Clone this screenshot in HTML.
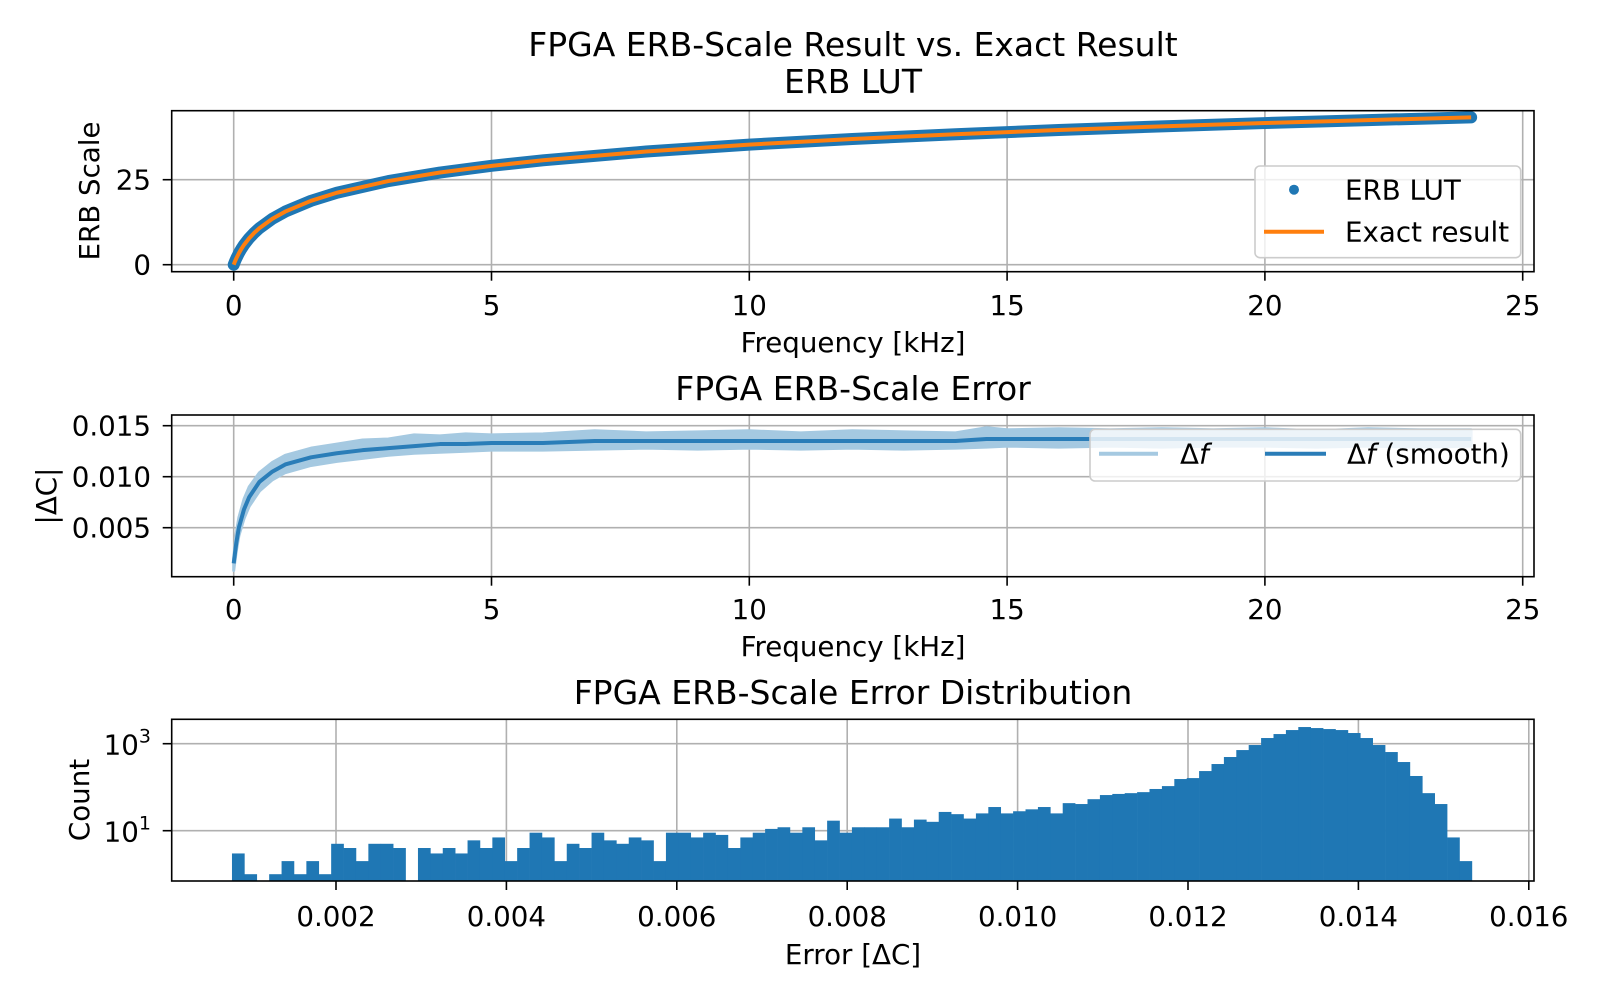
<!DOCTYPE html>
<html><head><meta charset="utf-8"><title>FPGA ERB-Scale</title>
<style>
html,body{margin:0;padding:0;background:#fff;}
svg{display:block;}
text{font-family:"DejaVu Sans","Liberation Sans",sans-serif;fill:#000;}
</style></head>
<body>
<svg id="fig" width="1600" height="1000" viewBox="0 0 1600 1000" xmlns="http://www.w3.org/2000/svg">
  <rect x="0" y="0" width="1600" height="1000" fill="#fff"/>
  <text x="853" y="56" font-size="33" text-anchor="middle">FPGA ERB-Scale Result vs. Exact Result</text>
  <text x="853" y="93" font-size="33" text-anchor="middle">ERB LUT</text>
  <text x="853" y="400" font-size="33" text-anchor="middle">FPGA ERB-Scale Error</text>
  <text x="853" y="704" font-size="33" text-anchor="middle">FPGA ERB-Scale Error Distribution</text>

  <g id="p1"></g>
  <g id="p2"></g>
  <g id="p3"></g>
</svg>
<script>
// ---- Panel 1 data ----
const erbFreqs = [0,0.02,0.05,0.1,0.15,0.2,0.3,0.4,0.5,0.75,1,1.5,2,3,4,5,6,8,10,12,14,16,18,20,22,24];
const lutErb   = [0,0.78,1.84,3.37,4.68,5.84,7.79,9.39,10.77,13.51,15.62,18.79,21.16,24.60,27.11,29.08,30.71,33.29,35.32,36.98,38.38,39.61,40.69,41.66,42.53,43.33];
const exactErb = [0,0.78,1.84,3.37,4.68,5.84,7.79,9.39,10.77,13.51,15.62,18.79,21.16,24.60,27.11,29.08,30.71,33.29,35.32,36.98,38.38,39.61,40.69,41.66,42.53,43.33];
const freqTicks = [0,5,10,15,20,25];
const erbTicks = [0,25];

// ---- Panel 2 data ----
const errFreqs = [0,0.05,0.1,0.2,0.3,0.5,0.75,1,1.5,2,2.5,3,3.5,4,4.5,5,6,7,8,9,10,11,12,13,14,14.6,15,16,17,18,19,20,21,22,23,24];
const errSmooth = [0.0015,0.0035,0.0050,0.0068,0.0080,0.0095,0.0105,0.0112,0.0119,0.0123,0.0126,0.0128,0.0130,0.0132,0.0132,0.0133,0.0133,0.0135,0.0135,0.0135,0.0135,0.0135,0.0135,0.0135,0.0135,0.0137,0.0137,0.0137,0.0137,0.0137,0.0137,0.0137,0.0137,0.0137,0.0137,0.0137];
const errUpper = [0.0020,0.0045,0.0060,0.0078,0.0090,0.0104,0.0114,0.0121,0.0128,0.0132,0.0136,0.0137,0.0141,0.0140,0.0142,0.0141,0.0142,0.0145,0.0143,0.0144,0.0145,0.0143,0.0145,0.0144,0.0143,0.0148,0.0146,0.0147,0.0146,0.0147,0.0146,0.0147,0.0145,0.0147,0.0146,0.0146];
const errLower = [0.0008,0.0027,0.0042,0.0059,0.0071,0.0086,0.0097,0.0104,0.0111,0.0115,0.0118,0.0121,0.0123,0.0124,0.0125,0.0126,0.0126,0.0127,0.0128,0.0127,0.0128,0.0127,0.0128,0.0127,0.0128,0.0129,0.0130,0.0129,0.0130,0.0129,0.0130,0.0130,0.0129,0.0130,0.0129,0.0130];
const errTicks = [0.005,0.010,0.015];
const errTickLabels = ["0.005","0.010","0.015"];

// ---- Panel 3 data ----
const histStart = 0.000779;
const histEnd = 0.015332;
const histCounts = [3,1,0,1,2,1,2,1,5,4,2,5,5,4,0,4,3,4,3,6,4,7,2,4,9,7,2,5,4,9,6,5,7,6,2,9,9,7,9,8,4,7,9,11,12,9,12,6,17,9,12,12,12,19,12,18,16,27,24,19,25,35,25,28,31,35,25,43,41,53,66,70,73,77,91,106,154,162,235,341,494,714,932,1350,1667,2060,2415,2290,2170,2060,1760,1350,932,643,379,181,73,41,7,2];
const histXTicks = [0.002,0.004,0.006,0.008,0.010,0.012,0.014,0.016];
const histXTickLabels = ["0.002","0.004","0.006","0.008","0.010","0.012","0.014","0.016"];
const histYTicks = [1,3];

const NS = "http://www.w3.org/2000/svg";
function mk(parent, tag, attrs){
  const e = document.createElementNS(NS, tag);
  for (const k in attrs) e.setAttribute(k, attrs[k]);
  parent.appendChild(e);
  return e;
}
const AX_L = 171.7, AX_R = 1534;
const GRID = "#b0b0b0";
const FS = 27.7;

function xf(f){ return 233.7 + f*51.56; }

// ===== Panel 1 =====
(function(){
  const g = document.getElementById('p1');
  const T = 110.7, B = 271.7;
  function y(v){ return 264.7 - v*3.4; }
  freqTicks.forEach(t=>{
    const l = mk(g,'line',{x1:xf(t),x2:xf(t),y1:T,y2:B,stroke:GRID,'stroke-width':1.6});
    
    
    const tk = mk(g,'line',{x1:xf(t),x2:xf(t),y1:B,y2:B+9,stroke:'#000','stroke-width':1.6});
    
    
    const tx = mk(g,'text',{x:xf(t),y:315,'font-size':FS,'text-anchor':'middle'});
    tx.textContent = String(t);
    
    
  });
  erbTicks.forEach(t=>{
    const l = mk(g,'line',{x1:AX_L,x2:AX_R,y1:y(t),y2:y(t),stroke:GRID,'stroke-width':1.6});
    
    
    const tk = mk(g,'line',{x1:AX_L-9,x2:AX_L,y1:y(t),y2:y(t),stroke:'#000','stroke-width':1.6});
    
    
    const tx = mk(g,'text',{x:151,y:y(t)+10,'font-size':FS,'text-anchor':'end'});
    tx.textContent = String(t);
    
    
  });
  const lutPts = erbFreqs.map((f,i)=>xf(f).toFixed(2)+','+y(lutErb[i]).toFixed(2)).join(' ');
  const lut = mk(g,'polyline',{points:lutPts,fill:'none',stroke:'#1f77b4','stroke-width':12,'stroke-linecap':'round','stroke-linejoin':'round'});
  
  
  const exPts = erbFreqs.map((f,i)=>xf(f).toFixed(2)+','+y(exactErb[i]).toFixed(2)).join(' ');
  const ex = mk(g,'polyline',{points:exPts,fill:'none',stroke:'#ff7f0e','stroke-width':4,'stroke-linejoin':'round'});
  
  
  const sp = mk(g,'rect',{x:AX_L,y:T,width:AX_R-AX_L,height:B-T,fill:'none',stroke:'#000','stroke-width':1.6});
  
  
  const lg = mk(g,'g',{});
  
  
  mk(lg,'rect',{x:1255,y:166,width:265.7,height:91.7,rx:5,fill:'#fff','fill-opacity':0.8,stroke:'#cccccc','stroke-width':1.6});
  const d = mk(lg,'circle',{cx:1294,cy:189.7,r:5,fill:'#1f77b4'});
  
  
  const t1 = mk(lg,'text',{x:1345,y:199.5,'font-size':FS});
  t1.textContent = 'ERB LUT';
  
  
  const ln = mk(lg,'line',{x1:1264,x2:1324,y1:231.7,y2:231.7,stroke:'#ff7f0e','stroke-width':4});
  
  
  const t2 = mk(lg,'text',{x:1345,y:241.5,'font-size':FS});
  t2.textContent = 'Exact result';
  
  
  const xl = mk(g,'text',{x:853,y:352,'font-size':FS,'text-anchor':'middle'});
  xl.textContent = 'Frequency [kHz]';
  
  
  const yl = mk(g,'text',{x:0,y:0,'font-size':FS,'text-anchor':'middle',transform:'translate(99,191) rotate(-90)'});
  yl.textContent = 'ERB Scale';
  
  
})();

// ===== Panel 2 =====
(function(){
  const g = document.getElementById('p2');
  const T = 415, B = 576.7;
  function y(v){ return 476.7 - (v-0.010)*10200; }
  freqTicks.forEach(t=>{
    const l = mk(g,'line',{x1:xf(t),x2:xf(t),y1:T,y2:B,stroke:GRID,'stroke-width':1.6});
    
    
    const tk = mk(g,'line',{x1:xf(t),x2:xf(t),y1:B,y2:B+9,stroke:'#000','stroke-width':1.6});
    
    
    const tx = mk(g,'text',{x:xf(t),y:619,'font-size':FS,'text-anchor':'middle'});
    tx.textContent = String(t);
    
    
  });
  errTicks.forEach((t,i)=>{
    const l = mk(g,'line',{x1:AX_L,x2:AX_R,y1:y(t),y2:y(t),stroke:GRID,'stroke-width':1.6});
    
    
    const tk = mk(g,'line',{x1:AX_L-9,x2:AX_L,y1:y(t),y2:y(t),stroke:'#000','stroke-width':1.6});
    
    
    const tx = mk(g,'text',{x:151,y:y(t)+10,'font-size':FS,'text-anchor':'end'});
    tx.textContent = errTickLabels[i];
    
    
  });
  const up = errFreqs.map((f,i)=>xf(f).toFixed(2)+','+y(errUpper[i]).toFixed(2));
  const lo = errFreqs.map((f,i)=>xf(f).toFixed(2)+','+y(errLower[i]).toFixed(2)).reverse();
  const band = mk(g,'polygon',{points:up.concat(lo).join(' '),fill:'#a5c9e1',stroke:'#a5c9e1','stroke-width':3,'stroke-linejoin':'round'});
  
  
  const sm = mk(g,'polyline',{points:errFreqs.map((f,i)=>xf(f).toFixed(2)+','+y(errSmooth[i]).toFixed(2)).join(' '),fill:'none',stroke:'#2a7db8','stroke-width':4,'stroke-linejoin':'round'});
  
  
  const sp = mk(g,'rect',{x:AX_L,y:T,width:AX_R-AX_L,height:B-T,fill:'none',stroke:'#000','stroke-width':1.6});
  
  
  const lg = mk(g,'g',{});
  
  
  mk(lg,'rect',{x:1090,y:429.3,width:430.7,height:51.7,rx:5,fill:'#fff','fill-opacity':0.8,stroke:'#cccccc','stroke-width':1.6});
  const l1 = mk(lg,'line',{x1:1099,x2:1158,y1:453.7,y2:453.7,stroke:'#a5c9e1','stroke-width':4});
  
  
  const t1 = mk(lg,'text',{x:1180,y:463.5,'font-size':FS});
  t1.innerHTML = 'Δ<tspan font-style="italic">f</tspan>';
  
  
  const l2 = mk(lg,'line',{x1:1265,x2:1326,y1:453.7,y2:453.7,stroke:'#2a7db8','stroke-width':4});
  
  
  const t2 = mk(lg,'text',{x:1347,y:463.5,'font-size':FS});
  t2.innerHTML = 'Δ<tspan font-style="italic">f</tspan> (smooth)';
  
  
  const xl = mk(g,'text',{x:853,y:656,'font-size':FS,'text-anchor':'middle'});
  xl.textContent = 'Frequency [kHz]';
  
  
  const yl = mk(g,'text',{x:0,y:0,'font-size':FS,'text-anchor':'middle',transform:'translate(56,496) rotate(-90)'});
  yl.textContent = '|ΔC|';
  
  
})();

// ===== Panel 3 =====
(function(){
  const g = document.getElementById('p3');
  const T = 719.3, B = 881;
  function x(v){ return 336 + (v-0.002)*85200; }
  function y(c){ return 830.7 - (Math.log10(c)-1)*43.5; }
  histXTicks.forEach((t,i)=>{
    const l = mk(g,'line',{x1:x(t),x2:x(t),y1:T,y2:B,stroke:GRID,'stroke-width':1.6});
    
    
  });
  histYTicks.forEach(p=>{
    const l = mk(g,'line',{x1:AX_L,x2:AX_R,y1:y(Math.pow(10,p)),y2:y(Math.pow(10,p)),stroke:GRID,'stroke-width':1.6});
    
    
  });
  const bw = (histEnd-histStart)/histCounts.length;
  histCounts.forEach((c,i)=>{
    if (c<=0) return;
    const x0 = x(histStart+i*bw), x1 = x(histStart+(i+1)*bw);
    const top = Math.max(T, y(c));
    const r = mk(g,'rect',{x:x0.toFixed(2),y:top.toFixed(2),width:(x1-x0+0.3).toFixed(2),height:(B-top).toFixed(2),fill:'#1f77b4'});
    
    
  });
  histXTicks.forEach((t,i)=>{
    const tk = mk(g,'line',{x1:x(t),x2:x(t),y1:B,y2:B+9,stroke:'#000','stroke-width':1.6});
    
    
    const tx = mk(g,'text',{x:x(t),y:926,'font-size':FS,'text-anchor':'middle'});
    tx.textContent = histXTickLabels[i];
    
    
  });
  histYTicks.forEach(p=>{
    const yy = y(Math.pow(10,p));
    const tk = mk(g,'line',{x1:AX_L-9,x2:AX_L,y1:yy,y2:yy,stroke:'#000','stroke-width':1.6});
    
    
    const tx = mk(g,'text',{x:151,y:yy+11,'font-size':FS,'text-anchor':'end'});
    tx.innerHTML = '10<tspan font-size="19" dy="-12">'+p+'</tspan>';
    
    
  });
  const sp = mk(g,'rect',{x:AX_L,y:T,width:AX_R-AX_L,height:B-T,fill:'none',stroke:'#000','stroke-width':1.6});
  
  
  const xl = mk(g,'text',{x:853,y:964,'font-size':FS,'text-anchor':'middle'});
  xl.textContent = 'Error [ΔC]';
  
  
  const yl = mk(g,'text',{x:0,y:0,'font-size':FS,'text-anchor':'middle',transform:'translate(89,800) rotate(-90)'});
  yl.textContent = 'Count';
  
  
})();
</script>
</body></html>
